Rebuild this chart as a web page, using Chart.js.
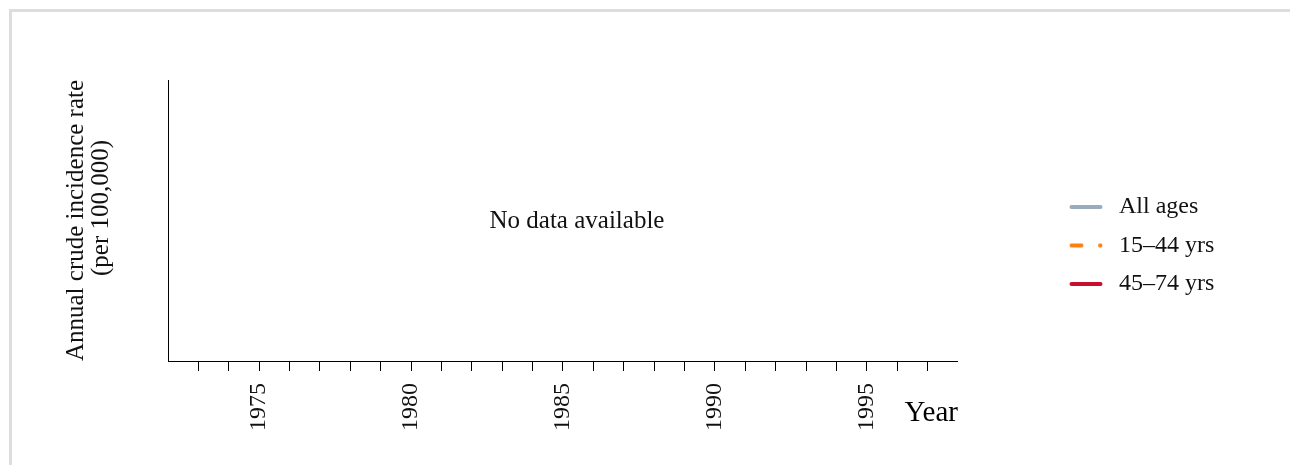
<!DOCTYPE html>
<html lang="en">

<head>
  <meta charset="UTF-8">
  <title>Annual crude incidence rate</title>
  <script src="https://cdn.jsdelivr.net/npm/chart.js"></script>
  <style>
    body {
      margin: 0;
      background: #fff;
    }

    #frame {
      position: absolute;
      left: 9px;
      top: 9px;
      width: 1300px;
      height: 500px;
      border: 3px solid #ddd;
    }

    canvas {
      display: block;
    }
  </style>
</head>

<body>
  <div id="frame">
    <canvas id="incidenceChart" width="1278" height="453"></canvas>
  </div>
  <script>
    // series (no data points in this chart)
    const seriesNames = ['All ages', '15–44 yrs', '45–74 yrs'];
    const seriesColors = ['#9aabbe', '#ff7f0e', '#c8102e'];
    const seriesDash = [[], [10, 18.5], []];
    const allAgesData = [];
    const age15to44Data = [];
    const age45to74Data = [];

    // x axis
    const yearMin = 1972;
    const yearMax = 1998;
    const tickYears = [1973, 1974, 1975, 1976, 1977, 1978, 1979, 1980, 1981, 1982, 1983, 1984, 1985,
      1986, 1987, 1988, 1989, 1990, 1991, 1992, 1993, 1994, 1995, 1996, 1997];
    const labelYears = [1975, 1980, 1985, 1990, 1995];

    const serif = "'Liberation Serif', 'Times New Roman', serif";
    const textColor = '#111';

    // little line swatches for the legend
    function makeSwatch(color, dash) {
      const c = document.createElement('canvas');
      c.width = 38;
      c.height = 8;
      const g = c.getContext('2d');
      g.strokeStyle = color;
      g.lineWidth = 4;
      g.lineCap = 'round';
      g.setLineDash(dash);
      g.beginPath();
      g.moveTo(2.5, 4);
      g.lineTo(31.5, 4);
      g.stroke();
      return c;
    }
    const swatches = seriesColors.map((c, i) => makeSwatch(c, seriesDash[i]));

    const noDataPlugin = {
      id: 'noData',
      afterDraw(chart) {
        const { ctx, chartArea } = chart;
        ctx.save();
        ctx.font = '25px ' + serif;
        ctx.fillStyle = textColor;
        ctx.textAlign = 'center';
        ctx.textBaseline = 'middle';
        ctx.fillText('No data available', (chartArea.left + chartArea.right) / 2 + 14, (chartArea.top + chartArea.bottom) / 2 + 1);
        ctx.restore();
      }
    };

    const ctx = document.getElementById('incidenceChart').getContext('2d');

    new Chart(ctx, {
      type: 'line',
      data: {
        datasets: [allAgesData, age15to44Data, age45to74Data].map((d, i) => ({
          label: seriesNames[i],
          data: d,
          borderColor: seriesColors[i],
          borderDash: seriesDash[i],
          borderWidth: 4,
          pointRadius: 0,
        })),
      },
      options: {
        responsive: false,
        animation: false,
        layout: {
          padding: { left: 51.5, top: 68, right: 65.7, bottom: 32 },
        },
        scales: {
          x: {
            type: 'linear',
            min: yearMin,
            max: yearMax,
            afterBuildTicks: (scale) => {
              scale.ticks = tickYears.map(v => ({ value: v }));
            },
            ticks: {
              autoSkip: false,
              minRotation: 90,
              maxRotation: 90,
              padding: 12,
              color: textColor,
              font: { family: serif, size: 24, lineHeight: 1.12 },
              callback: (v) => labelYears.includes(v) ? String(v) : '',
            },
            grid: {
              display: true,
              drawOnChartArea: false,
              drawTicks: true,
              tickLength: 10,
              color: '#000',
            },
            border: { display: true, color: '#000', width: 1 },
            title: {
              display: true,
              text: 'Year',
              align: 'end',
              color: '#000',
              font: { family: serif, size: 29, lineHeight: 1 },
              padding: { top: -44.5, bottom: 5.5 },
            },
          },
          y: {
            type: 'linear',
            position: 'left',
            ticks: { display: false },
            grid: { display: false, drawTicks: false },
            border: { display: true, color: '#000', width: 1 },
            title: {
              display: true,
              text: ['Annual crude incidence rate', '    (per 100,000)'],
              color: textColor,
              font: { family: serif, size: 25, lineHeight: 1 },
              padding: { top: 0, bottom: 54.5 },
            },
          },
          // empty right axis, keeps the gap between plot and legend
          gap: {
            type: 'linear',
            position: 'right',
            ticks: { display: false },
            grid: { display: false, drawTicks: false },
            border: { display: false },
            afterFit: (scale) => { scale.width = 96.5; },
          },
        },
        plugins: {
          legend: {
            position: 'right',
            fullSize: false,
            title: {
              display: true,
              text: ' ',
              font: { family: serif, size: 24, lineHeight: 1 },
              padding: { top: 26, bottom: 0 },
            },
            labels: {
              usePointStyle: true,
              pointStyleWidth: 38,
              padding: 14.5,
              color: textColor,
              font: { family: serif, size: 24 },
              generateLabels: (chart) => chart.data.datasets.map((ds, i) => ({
                text: ds.label,
                pointStyle: swatches[i],
                fillStyle: seriesColors[i],
                strokeStyle: seriesColors[i],
                lineWidth: 0,
                hidden: false,
                datasetIndex: i,
                fontColor: textColor,
              })),
            },
          },
          tooltip: { enabled: false },
        },
      },
      plugins: [noDataPlugin],
    });
  </script>
</body>

</html>
